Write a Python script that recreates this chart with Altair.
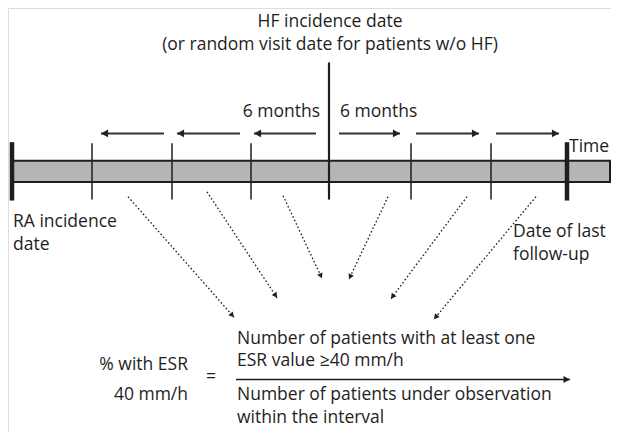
import math
import altair as alt
import pandas as pd

FONT = "Open Sans"
FS = 17.5
INK = "#1e1e1e"

# ---- geometry of the schematic (reference image pixel coordinates) ----
bar_x = [15, 613]
bar_y = [167, 189]

thick_x = [15, 570]
thick_y = [148, 208]
tick_x = [95, 175, 254, 414, 494]
tick_y = [149, 207]
center_x = 332
center_y = [66, 207]

# horizontal 6-month arrows (tail x, head x) at y=139
harrow_y = 139
harrow_tail = [167, 243, 319, 342, 419, 499]
harrow_head = [104, 180, 257, 403, 482, 562]

# dotted diagonal arrows: start (x,y) -> head (x,y)
dot_x1 = [131, 210, 286, 391, 470, 539]
dot_y1 = [204, 199, 203, 204, 204, 204]
dot_x2 = [237, 280, 325, 352, 394, 437]
dot_y2 = [328, 308, 288, 289, 309, 330]

# fraction arrow
frac_x = [239, 573]
frac_y = 392

# labels
center_labels = ["HF incidence date", "(or random visit date for patients w/o HF)"]
center_label_y = [24, 48]
left_labels = ["6 months", "% with ESR", "40 mm/h"]
left_label_x = [323, 191, 191]
left_label_y = [117, 377, 408]
right_labels = ["6 months", "Time", "RA incidence", "date", "Date of last", "follow-up",
                "Number of patients with at least one", "ESR value \u226540 mm/h",
                "Number of patients under observation", "within the interval", "="]
right_label_x = [343, 572, 16, 16, 516, 516, 240, 240, 240, 240, 209]
right_label_y = [117, 153, 230, 254, 240, 264, 350, 373, 408, 432, 389]

W, H = 603, 424
xs = alt.Scale(domain=[11, 614], nice=False, zero=False)
ys = alt.Scale(domain=[10, 446], nice=False, zero=False, reverse=True)


def X(f, **kw):
    return alt.X(f, type="quantitative", scale=xs, axis=None, **kw)


def Y(f, **kw):
    return alt.Y(f, type="quantitative", scale=ys, axis=None, **kw)


arrow_shape = "M0,0 L-1,-0.55 L-1,0.55 Z"

layers = []

# bar
bar_df = pd.DataFrame({"x": [bar_x[0]], "x2": [bar_x[1]], "y": [bar_y[0]], "y2": [bar_y[1]]})
layers.append(alt.Chart(bar_df).mark_rect(fill="#b5b5b5", stroke=INK, strokeWidth=2).encode(
    x=X("x"), x2="x2", y=Y("y"), y2="y2"))

# thin ticks
tick_df = pd.DataFrame({"x": tick_x, "y": tick_y[0], "y2": tick_y[1]})
layers.append(alt.Chart(tick_df).mark_rule(color=INK, strokeWidth=1.5).encode(
    x=X("x"), y=Y("y"), y2="y2"))

# center line
cen_df = pd.DataFrame({"x": [center_x], "y": [center_y[0]], "y2": [center_y[1]]})
layers.append(alt.Chart(cen_df).mark_rule(color=INK, strokeWidth=2.2).encode(
    x=X("x"), y=Y("y"), y2="y2"))

# thick ends
thick_df = pd.DataFrame({"x": thick_x, "y": thick_y[0], "y2": thick_y[1]})
layers.append(alt.Chart(thick_df).mark_rule(color=INK, strokeWidth=4.5).encode(
    x=X("x"), y=Y("y"), y2="y2"))

# horizontal arrows
ha_df = pd.DataFrame({"x": harrow_tail, "x2": harrow_head, "y": harrow_y})
ha_df["ang"] = [180 if h < t else 0 for t, h in zip(harrow_tail, harrow_head)]
layers.append(alt.Chart(ha_df).mark_rule(color="#333333", strokeWidth=2).encode(
    x=X("x"), x2="x2", y=Y("y")))
layers.append(alt.Chart(ha_df).mark_point(shape=arrow_shape, filled=True, color="#222222",
                                          opacity=1, size=200).encode(
    x=X("x2"), y=Y("y"), angle=alt.Angle("ang:Q", scale=None)))

# dotted diagonal arrows
d_df = pd.DataFrame({"x": dot_x1, "y": dot_y1, "x2": dot_x2, "y2": dot_y2})
d_df["ang"] = [(math.degrees(math.atan2(b2 - b1, a2 - a1)) + 360) % 360
               for a1, b1, a2, b2 in zip(dot_x1, dot_y1, dot_x2, dot_y2)]
layers.append(alt.Chart(d_df).mark_rule(color=INK, strokeWidth=1.3, strokeDash=[1.6, 2.2]).encode(
    x=X("x"), y=Y("y"), x2="x2", y2="y2"))
layers.append(alt.Chart(d_df).mark_point(shape=arrow_shape, filled=True, color=INK,
                                         opacity=1, size=110).encode(
    x=X("x2"), y=Y("y2"), angle=alt.Angle("ang:Q", scale=None)))

# fraction arrow
f_df = pd.DataFrame({"x": [frac_x[0]], "x2": [frac_x[1]], "y": [frac_y], "ang": [0]})
layers.append(alt.Chart(f_df).mark_rule(color=INK, strokeWidth=1.5).encode(
    x=X("x"), x2="x2", y=Y("y")))
layers.append(alt.Chart(f_df).mark_point(shape=arrow_shape, filled=True, color=INK,
                                         opacity=1, size=170).encode(
    x=X("x2"), y=Y("y"), angle=alt.Angle("ang:Q", scale=None)))

# texts
tc = pd.DataFrame({"x": center_x + 1, "y": center_label_y, "t": center_labels})
layers.append(alt.Chart(tc).mark_text(font=FONT, fontSize=FS, color=INK, align="center",
                                      baseline="middle").encode(
    x=X("x"), y=Y("y"), text="t:N"))
tl = pd.DataFrame({"x": left_label_x, "y": left_label_y, "t": left_labels})
layers.append(alt.Chart(tl).mark_text(font=FONT, fontSize=FS, color=INK, align="right",
                                      baseline="middle").encode(
    x=X("x"), y=Y("y"), text="t:N"))
tr = pd.DataFrame({"x": right_label_x, "y": right_label_y, "t": right_labels})
layers.append(alt.Chart(tr).mark_text(font=FONT, fontSize=FS, color=INK, align="left",
                                      baseline="middle").encode(
    x=X("x"), y=Y("y"), text="t:N"))

chart = alt.layer(*layers).properties(
    width=W, height=H, padding=0, autosize=alt.AutoSizeParams(type="none")
).configure_view(stroke=None).configure(background="white")

chart.save("out.html", embed_options={"renderer": "svg", "actions": False})
